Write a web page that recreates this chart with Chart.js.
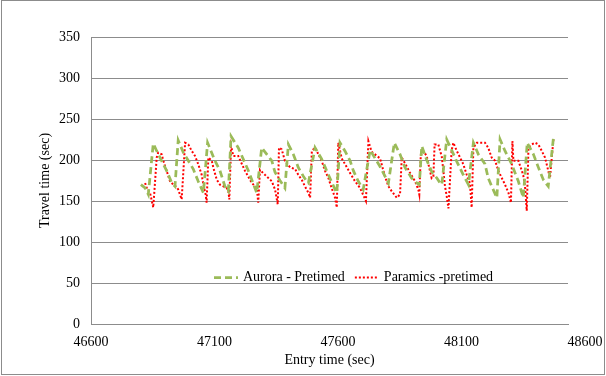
<!DOCTYPE html>
<html><head><meta charset="utf-8">
<script src="https://cdn.jsdelivr.net/npm/chart.js@4"></script>
<style>html,body{margin:0;padding:0;background:#fff}#wrap{width:606px;height:376px;position:relative}</style>
</head><body><div id="wrap"><canvas id="c" width="606" height="376"></canvas></div>
<script>
const seriesNames = ['Aurora - Pretimed', 'Paramics -pretimed'];
const xTickValues = [46600, 47100, 47600, 48100, 48600];
const yTickValues = [0, 50, 100, 150, 200, 250, 300, 350];

const auroraTime = [46802,46819,46832,46852,46866,46886,46906,46927,46940,46953,46974,46994,47014,47034,47055,47072,47102,47122,47142,47156,47167,47196,47237,47271,47291,47332,47345,47365,47385,47399,47419,47439,47460,47473,47480,47507,47534,47561,47588,47595,47608,47628,47649,47662,47682,47702,47730,47770,47804,47828,47851,47871,47898,47919,47929,47939,47959,47979,48000,48013,48020,48040,48060,48081,48107,48121,48128,48148,48168,48195,48208,48222,48243,48256,48276,48303,48330,48350,48366,48391,48411,48431,48451,48472];
const auroraTravel = [170,166,158,220,211,199,187,172,168,224,209,199,189,174,160,221,199,187,168,162,229,215,187,160,215,199,185,175,166,219,207,191,180,174,172,215,201,182,164,160,221,211,199,187,174,164,212,192,172,221,207,191,178,172,170,217,200,186,178,172,170,225,212,198,182,174,170,221,207,195,178,168,154,225,211,195,174,154,221,207,191,176,168,227];

const paramicsTime = [46819,46827,46839,46852,46866,46872,46886,46893,46906,46920,46933,46947,46953,46967,46981,46994,47008,47021,47034,47048,47055,47064,47068,47075,47089,47095,47109,47122,47136,47149,47156,47160,47167,47176,47196,47223,47251,47271,47277,47284,47304,47332,47345,47356,47361,47372,47385,47406,47426,47439,47453,47466,47480,47487,47494,47507,47534,47547,47561,47574,47588,47595,47601,47615,47649,47669,47689,47713,47723,47736,47770,47790,47804,47817,47838,47851,47858,47871,47892,47912,47925,47929,47935,47945,47959,47966,47979,47986,47991,48006,48020,48026,48033,48040,48047,48060,48067,48081,48094,48107,48121,48134,48141,48148,48162,48182,48195,48208,48222,48236,48249,48263,48276,48290,48300,48306,48310,48330,48344,48350,48357,48364,48371,48384,48398,48411,48425,48438,48451,48458,48472];
const paramicsTravel = [172,165,160,142,203,209,207,199,187,174,170,167,164,152,221,219,211,205,195,182,170,158,148,203,199,191,176,170,168,166,162,152,217,205,205,187,172,166,148,188,182,174,164,146,215,213,199,191,189,182,176,168,160,154,211,215,199,187,178,166,154,142,221,202,184,174,166,150,223,210,202,180,168,162,154,158,203,196,184,174,164,158,206,211,205,195,178,180,219,219,204,188,168,156,141,212,221,211,203,195,182,172,142,215,221,221,221,215,203,199,187,178,170,160,148,223,199,199,187,181,168,138,215,219,221,219,211,203,187,178,225];

const FONT = "'Liberation Serif', 'Times New Roman', serif";
const toPoints = (xs, ys) => xs.map((x, i) => ({x, y: ys[i]}));

const frame = {
  id: 'frame',
  beforeDraw(chart) {
    const c = chart.ctx;
    c.save();
    c.fillStyle = '#fff';
    c.fillRect(0, 0, chart.width, chart.height);
    c.strokeStyle = '#8c8c8c';
    c.lineWidth = 1;
    c.strokeRect(1.5, 0.5, chart.width - 3, chart.height - 2);
    c.restore();
  }
};

const inlineLegend = {
  id: 'inlineLegend',
  afterDraw(chart) {
    const c = chart.ctx, a = chart.chartArea;
    let x = a.left + 123;
    const y = a.bottom - 47;
    c.save();
    c.font = '14px ' + FONT;
    c.textBaseline = 'middle';
    c.textAlign = 'left';
    chart.data.datasets.forEach(ds => {
      c.beginPath();
      c.strokeStyle = ds.borderColor;
      c.lineWidth = ds.borderWidth;
      c.setLineDash(ds.borderDash || []);
      c.moveTo(x, y + 0.5);
      c.lineTo(x + 24, y + 0.5);
      c.stroke();
      c.setLineDash([]);
      c.fillStyle = '#000';
      c.fillText(ds.label, x + 29, y);
      x += 29 + c.measureText(ds.label).width + 10;
    });
    c.restore();
  }
};

new Chart(document.getElementById('c'), {
  type: 'line',
  data: {
    datasets: [
      {
        label: seriesNames[0],
        data: toPoints(auroraTime, auroraTravel),
        borderColor: '#9bbb59',
        borderWidth: 2.75,
        borderDash: [7, 4],
        pointRadius: 0,
        tension: 0,
        fill: false
      },
      {
        label: seriesNames[1],
        data: toPoints(paramicsTime, paramicsTravel),
        borderColor: '#ff0000',
        borderWidth: 2,
        borderDash: [2, 2],
        pointRadius: 0,
        tension: 0,
        fill: false
      }
    ]
  },
  options: {
    responsive: false,
    animation: false,
    layout: {padding: {left: 0, top: 37, right: 38, bottom: 0}},
    plugins: {legend: {display: false}, tooltip: {enabled: false}},
    scales: {
      x: {
        type: 'linear',
        min: 46600,
        max: 48531,
        afterBuildTicks: s => { s.ticks = xTickValues.map(v => ({value: v})); },
        afterFit: s => { s.height = 52; s.paddingLeft = 0; s.paddingRight = 0; },
        grid: {display: false, drawTicks: false},
        border: {display: true, color: '#8c8c8c', width: 1},
        ticks: {
          autoSkip: false,
          maxRotation: 0,
          padding: 10,
          color: '#000',
          font: {family: FONT, size: 14},
          callback: v => String(v)
        },
        title: {
          display: true,
          text: 'Entry time (sec)',
          color: '#000',
          font: {family: FONT, size: 14},
          padding: {top: 0, bottom: 7}
        }
      },
      y: {
        type: 'linear',
        min: 0,
        max: 350,
        afterBuildTicks: s => { s.ticks = yTickValues.map(v => ({value: v})); },
        afterFit: s => { s.width = 91; },
        grid: {color: '#8c8c8c', lineWidth: 1, drawTicks: false},
        border: {display: true, color: '#8c8c8c', width: 1},
        ticks: {
          padding: 11,
          color: '#000',
          font: {family: FONT, size: 14},
          callback: v => String(v)
        },
        title: {
          display: true,
          text: 'Travel time (sec)',
          color: '#000',
          font: {family: FONT, size: 14},
          padding: {top: 37, bottom: 0}
        }
      }
    }
  },
  plugins: [frame, inlineLegend]
});
</script>
</body></html>
